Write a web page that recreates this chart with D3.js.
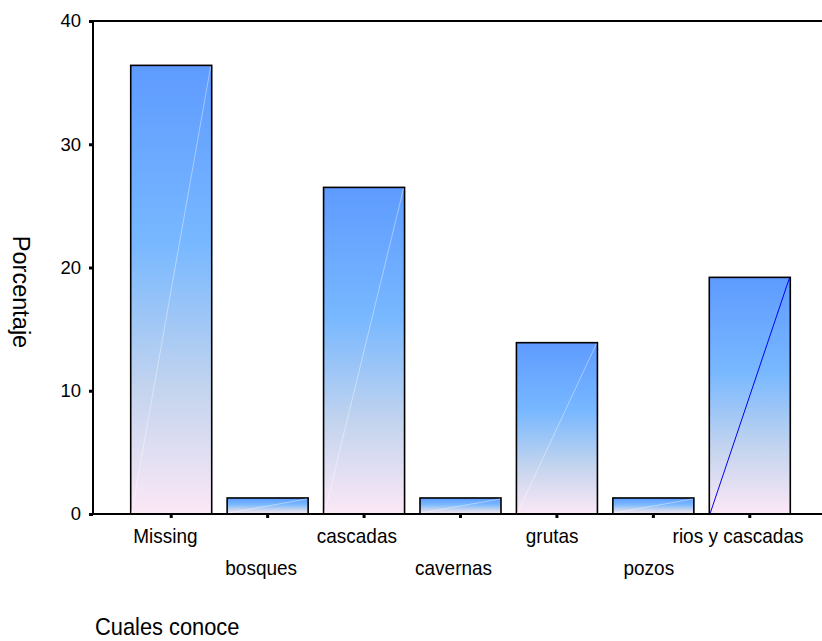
<!DOCTYPE html>
<html><head><meta charset="utf-8">
<script src="https://cdn.jsdelivr.net/npm/d3@7"></script>
<style>body{margin:0;background:#fff}svg{display:block}text{font-family:"Liberation Sans",Arial,sans-serif;fill:#000}</style>
</head><body>
<script>
const categories = ["Missing","bosques","cascadas","cavernas","grutas","pozos","rios y cascadas"];
const values = [36.4, 1.3, 26.5, 1.3, 13.9, 1.3, 19.2];
const yTicks = [0, 10, 20, 30, 40];
const yTitle = "Porcentaje";
const xTitle = "Cuales conoce";

const W = 822, H = 641;
const svg = d3.select("body").append("svg").attr("width", W).attr("height", H);
const x0 = 93, plotTop = 21, plotBottom = 514;
const x = d3.scaleBand().domain(categories).range([123, 798]).paddingInner(0.16).paddingOuter(0.08);
const y = d3.scaleLinear().domain([0, 40]).range([plotBottom, plotTop]);

const defs = svg.append("defs");
const g = defs.append("linearGradient").attr("id", "grad").attr("x1", 0).attr("y1", 0).attr("x2", 0).attr("y2", 1);
g.append("stop").attr("offset", "0%").attr("stop-color", "#5e9bff");
g.append("stop").attr("offset", "40%").attr("stop-color", "#78b8ff");
g.append("stop").attr("offset", "72%").attr("stop-color", "#c3d4ee");
g.append("stop").attr("offset", "100%").attr("stop-color", "#fce8f6");

// frame top line
svg.append("line").attr("x1", x0).attr("x2", W).attr("y1", plotTop).attr("y2", plotTop).attr("stroke", "#000").attr("stroke-width", 2);

const bars = svg.append("g").selectAll("g").data(categories).join("g");
bars.append("rect")
  .attr("x", d => x(d)).attr("width", x.bandwidth())
  .attr("y", (d, i) => y(values[i])).attr("height", (d, i) => y(0) - y(values[i]))
  .attr("fill", "url(#grad)").attr("stroke", "#000").attr("stroke-width", 1.6);
bars.append("line")
  .attr("x1", d => x(d) + 1).attr("y1", y(0) - 1)
  .attr("x2", d => x(d) + x.bandwidth() - 1).attr("y2", (d, i) => y(values[i]) + 1)
  .attr("stroke", (d, i) => i === 6 ? "#0000ee" : "#ffffff")
  .attr("stroke-opacity", (d, i) => i === 6 ? 1 : 0.4)
  .attr("stroke-width", 1);

// y axis
const ya = svg.append("g").attr("transform", `translate(${x0},0)`)
  .call(d3.axisLeft(y).tickValues(yTicks).tickSize(4).tickPadding(8).tickFormat(d3.format("d")));
ya.select(".domain").attr("stroke", "#000").attr("stroke-width", 2).attr("d", `M0,${plotTop}V${plotBottom}`);
ya.selectAll(".tick line").attr("stroke", "#000").attr("stroke-width", 3);
ya.selectAll(".tick text").style("font-size", "18.5px").attr("font-family", null).attr("x", -12);

// x axis
const xa = svg.append("g").attr("transform", `translate(0,${plotBottom})`)
  .call(d3.axisBottom(x).tickSize(4).tickPadding(10));
xa.select(".domain").attr("stroke", "#000").attr("stroke-width", 2).attr("d", `M${x0},0H${W}`);
xa.selectAll(".tick line").attr("stroke", "#000").attr("stroke-width", 3);
xa.selectAll(".tick text").style("font-size", "20px").attr("font-family", null)
  .attr("dy", null)
  .attr("y", (d, i) => i % 2 === 0 ? 29 : 61)
  .attr("transform", "scale(0.95,1)")
  .each(function () {
    const w = this.getComputedTextLength();
    d3.select(this).attr("dx", -0.09 * w);
  });
svg.selectAll(".tick text").attr("fill", "#000");

svg.append("text").attr("transform", "translate(95,635) scale(0.91,1)").style("font-size", "24px").text(xTitle);
svg.append("text").attr("transform", `translate(13,292) rotate(90)`).attr("text-anchor", "middle")
  .style("font-size", "23.5px").text(yTitle);
</script>
</body></html>
